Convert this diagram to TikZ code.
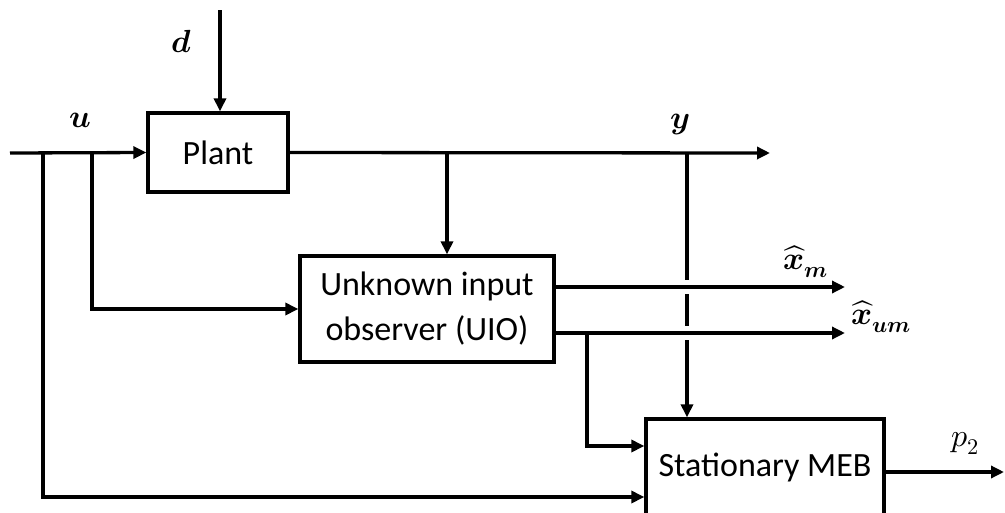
\documentclass[tikz,border=0pt]{standalone}
\usepackage{fontspec}
\usepackage{unicode-math}
\setmainfont{Carlito}
\setmathfont{Latin Modern Math}
\usetikzlibrary{arrows.meta,calc}

\tikzset{
  wire/.style={line width=3.3pt},
  flow/.style={wire,-{Triangle[length=13pt,width=12pt]}},
  blockbox/.style={draw,line width=3.3pt,rectangle,inner sep=0pt,align=center,
    font=\fontsize{34}{45}\selectfont},
  sig/.style={inner sep=0pt,font=\fontsize{32}{36}\selectfont},
  gapcover/.style={draw=white,line width=8pt}
}

\begin{document}
\begin{tikzpicture}[x=1pt,y=-1pt]
\useasboundingbox (0,0) rectangle (1005,512);
\clip (0,0) rectangle (1005,512);

% blocks
\node[blockbox,minimum width=140pt,minimum height=79pt] (plant) at (218,152.5) {Plant};
\node[blockbox,minimum width=254pt,minimum height=106pt] (uio) at (427,309) {Unknown input\\observer (UIO)};
\node[blockbox,minimum width=238pt,minimum height=96pt] (meb) at (765,467) {Stationary MEB};

% branch points and free ends
\coordinate (uin) at (10,153);
\coordinate (ua) at (43,153);
\coordinate (ub) at (92,153);
\coordinate (dtop) at (220,10);
\coordinate (yend) at (770,153);
\coordinate (ya) at (447,153);
\coordinate (yb) at (687,153);
\coordinate (xmend) at (845,287);
\coordinate (xumend) at (845,333);
\coordinate (xumb) at (587,333);
\coordinate (pend) at (1004,472);

% measured output y down to the MEB block (drawn first, crossed below)
\draw[flow] (yb) -- (yb |- meb.north);
\draw[gapcover] (687,280) -- (687,294);
\draw[gapcover] (687,326) -- (687,340);

% input u and disturbance d
\draw[flow] (uin) -- (plant.west);
\draw[flow] (dtop) -- (dtop |- plant.north);
\draw[flow] (ub) |- (uio.west);
\draw[flow] (ua) |- (meb.west |- 0,497);

% plant output y
\draw[flow] (plant.east) -- (yend);
\draw[flow] (ya) -- (ya |- uio.north);

% observer outputs
\draw[flow] (uio.east |- xmend) -- (xmend);
\draw[flow] (uio.east |- xumend) -- (xumend);
\draw[flow] (xumb) |- (meb.west |- 0,446);

% MEB output
\draw[flow] (meb.east |- pend) -- (pend);

% signal labels
\node[sig] (ld) at (182,42) {$\symbfit{d}$};
\node[sig] (lu) at (80,120) {$\symbfit{u}$};
\node[sig] (ly) at (680,124) {$\symbfit{y}$};
\node[sig] (lxm) at (806,262) {$\widehat{\symbfit{x}}_{\symbfit{m}}$};
\node[sig] (lxum) at (881,317) {$\widehat{\symbfit{x}}_{\symbfit{um}}$};
\node[sig] (lp) at (965,443) {$p_2$};
\end{tikzpicture}
\end{document}
